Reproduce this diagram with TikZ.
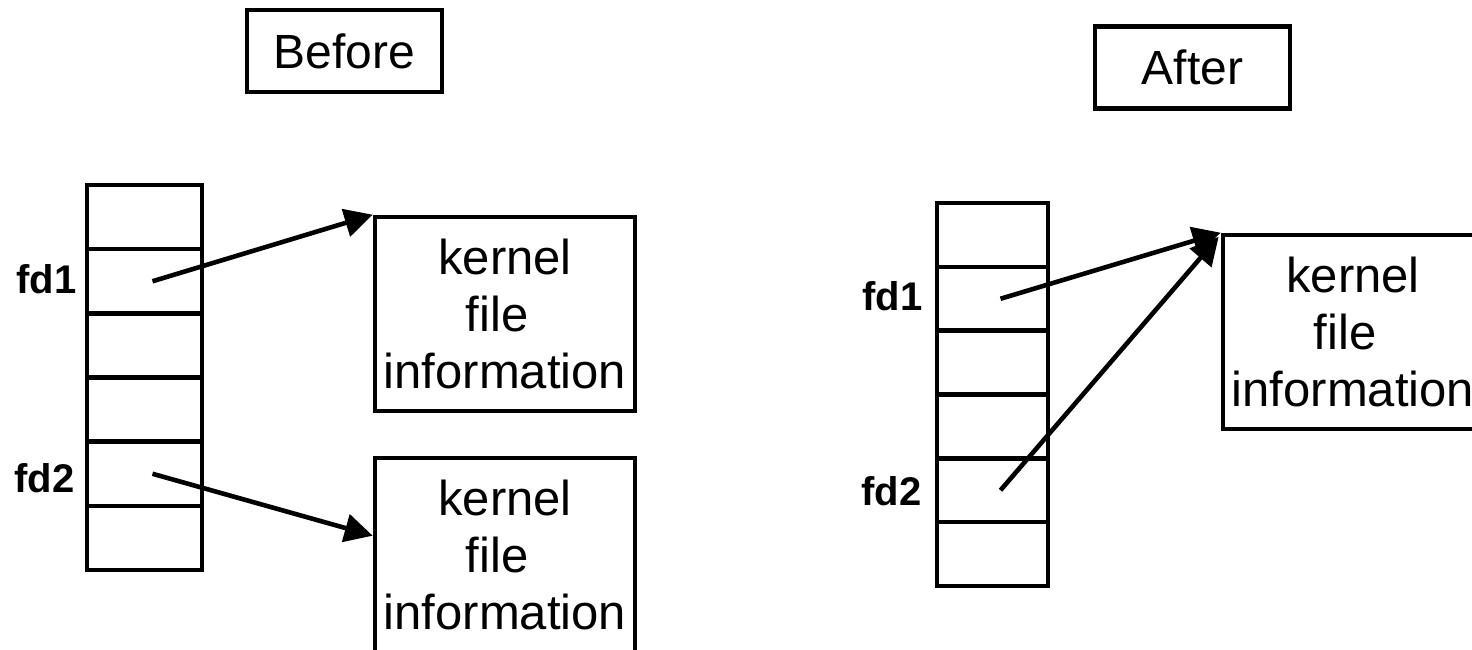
\documentclass[tikz,border=0pt]{standalone}
\usepackage{fontspec}
\setmainfont{Liberation Sans}
\usetikzlibrary{arrows.meta}
\begin{document}
\begin{tikzpicture}[x=0.5pt,y=-0.5pt,
  lw/.style={line width=2.3pt},
  titlebox/.style={draw,lw,minimum width=97.5pt,minimum height=41pt,inner sep=0pt,font=\fontsize{24pt}{28.5pt}\selectfont},
  kbox/.style={draw,lw,minimum width=130pt,minimum height=97pt,inner sep=0pt,align=center,font=\fontsize{24.5pt}{28.5pt}\selectfont},
  lcell/.style={draw,lw,minimum width=57.5pt,minimum height=32.1pt,inner sep=0pt},
  rcell/.style={draw,lw,minimum width=55.5pt,minimum height=31.9pt,inner sep=0pt},
  fdlabel/.style={anchor=base east,inner sep=0pt,font=\fontsize{20pt}{23pt}\selectfont\bfseries},
  ptr/.style={lw,-{Triangle[length=14pt,width=14pt]}}
]
\useasboundingbox (0,0) rectangle (1472,649);
\clip (0,0) rectangle (1472,649);

% Before
\node[titlebox] (before) at (344.5,51) {Before};
\foreach \i in {1,...,6} {
  \node[lcell] (L\i) at (144.5,{185+64.17*(\i-0.5)}) {};
}
\node[fdlabel] (fdL1) at (77,293) {fd1};
\node[fdlabel] (fdL2) at (75,492) {fd2};
\node[kbox] (K1) at (505,314) {kernel\\\mbox{file\kern8pt}\\information};
\node[kbox] (K2) at (505,555) {kernel\\\mbox{file\kern8pt}\\information};
\draw[ptr] ([xshift=4pt]L2.center) -- (K1.north west);
\draw[ptr] ([xshift=4pt]L5.center) -- ([yshift=-40pt]K2.north west);

% After
\node[titlebox] (after) at (1192.5,67.5) {After};
\foreach \i in {1,...,6} {
  \node[rcell] (R\i) at (992.5,{203+63.83*(\i-0.5)}) {};
}
\node[fdlabel] (fdR1) at (923,310) {fd1};
\node[fdlabel] (fdR2) at (922,505) {fd2};
\node[kbox] (K3) at (1353,332) {kernel\\\mbox{file\kern8pt}\\information};
\draw[ptr] ([xshift=4pt]R2.center) -- (K3.north west);
\draw[ptr] ([xshift=4pt]R5.center) -- ([shift={(-1pt,-2pt)}]K3.north west);
\end{tikzpicture}
\end{document}
